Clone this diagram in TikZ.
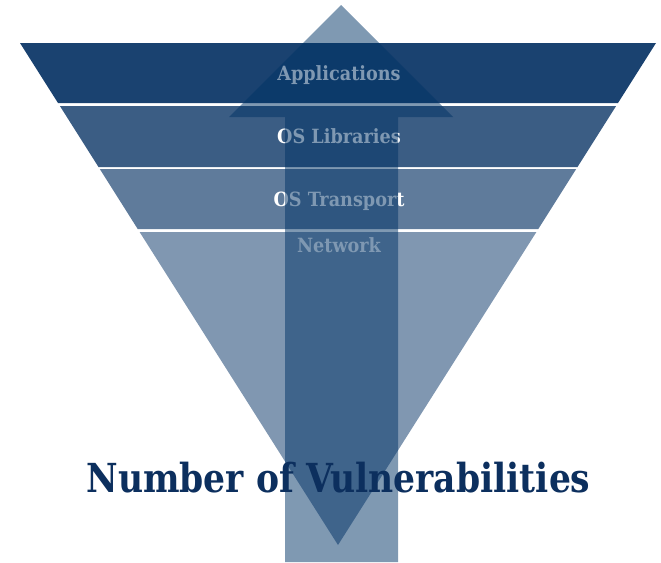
\documentclass[tikz,border=0pt]{standalone}
\usepackage{fontspec}
\setmainfont{DejaVu Serif Condensed}
\definecolor{bandA}{HTML}{1A4270}
\definecolor{bandB}{HTML}{3B5D84}
\definecolor{bandC}{HTML}{5F7B9B}
\definecolor{bandD}{HTML}{8097B1}
\definecolor{arrowblue}{HTML}{003366}
\definecolor{titleblue}{HTML}{0C2F5E}
\tikzset{
  band/.style={draw=none},
  layerlabel/.style={text=white, font=\bfseries\fontsize{19.6}{22}\selectfont, inner sep=0pt, anchor=base},
  bigarrow/.style={fill=arrowblue, fill opacity=0.5, draw=none},
  headline/.style={text=titleblue, font=\bfseries\fontsize{40}{44}\selectfont, inner sep=0pt, anchor=base}
}
\begin{document}
\begin{tikzpicture}[x=1pt,y=-1pt]
  \useasboundingbox (0,0) rectangle (661,562);
  % funnel layers, top to bottom
  \fill[band, bandA] (20,43) -- (656,43) -- (618,103) -- (58,103) -- cycle;
  \fill[band, bandB] (59.9,106) -- (616.1,106) -- (577.5,167) -- (98.5,167) -- cycle;
  \fill[band, bandC] (99.8,169) -- (576.2,169) -- (538.3,229) -- (137.7,229) -- cycle;
  \fill[band, bandD] (139.6,232) -- (536.4,232) -- (338,545) -- cycle;
  % layer names
  \node[layerlabel] (apps) at (339,80) {Applications};
  \node[layerlabel] (libs) at (339,143) {OS Libraries};
  \node[layerlabel] (trans) at (339,206) {OS Transport};
  \node[layerlabel] (net) at (339,252) {Network};
  % translucent upward arrow
  \fill[bigarrow] (341,5) -- (453,117) -- (398,117) -- (398,562) -- (285,562) -- (285,117) -- (229,117) -- cycle;
  % caption
  \node[headline] (caption) at (338.5,492) {\scalebox{0.96}[1]{Number of Vulnerabilities}};
\end{tikzpicture}
\end{document}
